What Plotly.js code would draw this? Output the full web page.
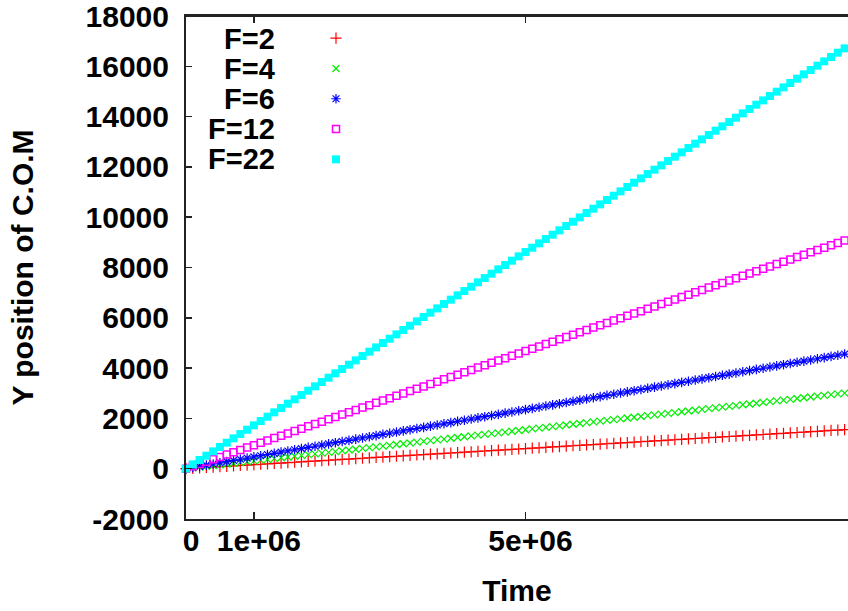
<!DOCTYPE html>
<html>
<head>
<meta charset="utf-8">
<script src="https://cdn.plot.ly/plotly-3.0.1.min.js"></script>
<style>
html,body{margin:0;padding:0;background:#fff;overflow:hidden;}
#chart{width:848px;height:611px;}
</style>
</head>
<body>
<div id="chart"></div>
<script>
// Time samples (every 1e5)
var time = [0,1e5,2e5,3e5,4e5,5e5,6e5,7e5,8e5,9e5,
  1e6,1.1e6,1.2e6,1.3e6,1.4e6,1.5e6,1.6e6,1.7e6,1.8e6,1.9e6,
  2e6,2.1e6,2.2e6,2.3e6,2.4e6,2.5e6,2.6e6,2.7e6,2.8e6,2.9e6,
  3e6,3.1e6,3.2e6,3.3e6,3.4e6,3.5e6,3.6e6,3.7e6,3.8e6,3.9e6,
  4e6,4.1e6,4.2e6,4.3e6,4.4e6,4.5e6,4.6e6,4.7e6,4.8e6,4.9e6,
  5e6,5.1e6,5.2e6,5.3e6,5.4e6,5.5e6,5.6e6,5.7e6,5.8e6,5.9e6,
  6e6,6.1e6,6.2e6,6.3e6,6.4e6,6.5e6,6.6e6,6.7e6,6.8e6,6.9e6,
  7e6,7.1e6,7.2e6,7.3e6,7.4e6,7.5e6,7.6e6,7.7e6,7.8e6,7.9e6,
  8e6,8.1e6,8.2e6,8.3e6,8.4e6,8.5e6,8.6e6,8.7e6,8.8e6,8.9e6,
  9e6,9.1e6,9.2e6,9.3e6,9.4e6,9.5e6,9.6e6,9.7e6,9.8e6,9.9e6,1e7];

var seriesNames = ["F=2","F=4","F=6","F=12","F=22"];

var yF2 = [0,16,32,48,64,80,96,112,128,144,
  160,176,192,208,224,240,256,272,288,304,
  320,336,352,368,384,400,416,432,448,464,
  480,496,512,528,544,560,576,592,608,624,
  640,656,672,688,704,720,736,752,768,784,
  800,816,832,848,864,880,896,912,928,944,
  960,976,992,1008,1024,1040,1056,1072,1088,1104,
  1120,1136,1152,1168,1184,1200,1216,1232,1248,1264,
  1280,1296,1312,1328,1344,1360,1376,1392,1408,1424,
  1440,1456,1472,1488,1504,1520,1536,1552,1568,1584,1600];

var yF4 = [0,31,62,93,124,155,186,217,248,279,
  310,341,372,403,434,465,496,527,558,589,
  620,651,682,713,744,775,806,837,868,899,
  930,961,992,1023,1054,1085,1116,1147,1178,1209,
  1240,1271,1302,1333,1364,1395,1426,1457,1488,1519,
  1550,1581,1612,1643,1674,1705,1736,1767,1798,1829,
  1860,1891,1922,1953,1984,2015,2046,2077,2108,2139,
  2170,2201,2232,2263,2294,2325,2356,2387,2418,2449,
  2480,2511,2542,2573,2604,2635,2666,2697,2728,2759,
  2790,2821,2852,2883,2914,2945,2976,3007,3038,3069,3100];

var yF6 = [0,47,94,141,188,235,282,329,376,423,
  470,517,564,611,658,705,752,799,846,893,
  940,987,1034,1081,1128,1175,1222,1269,1316,1363,
  1410,1457,1504,1551,1598,1645,1692,1739,1786,1833,
  1880,1927,1974,2021,2068,2115,2162,2209,2256,2303,
  2350,2397,2444,2491,2538,2585,2632,2679,2726,2773,
  2820,2867,2914,2961,3008,3055,3102,3149,3196,3243,
  3290,3337,3384,3431,3478,3525,3572,3619,3666,3713,
  3760,3807,3854,3901,3948,3995,4042,4089,4136,4183,
  4230,4277,4324,4371,4418,4465,4512,4559,4606,4653,4700];

var yF12 = [0,94,187,281,374,468,561,655,748,842,
  935,1029,1122,1216,1309,1403,1496,1590,1683,1777,
  1870,1964,2057,2151,2244,2338,2431,2525,2618,2712,
  2805,2899,2992,3086,3179,3273,3366,3460,3553,3647,
  3740,3834,3927,4021,4114,4208,4301,4395,4488,4582,
  4675,4769,4862,4956,5049,5143,5236,5330,5423,5517,
  5610,5704,5797,5891,5984,6078,6171,6265,6358,6452,
  6545,6639,6732,6826,6919,7013,7106,7200,7293,7387,
  7480,7574,7667,7761,7854,7948,8041,8135,8228,8322,
  8415,8509,8602,8696,8789,8883,8976,9070,9163,9257,9350];

var yF22 = [0,172,345,517,689,862,1034,1206,1378,1551,
  1723,1895,2068,2240,2412,2585,2757,2929,3101,3274,
  3446,3618,3791,3963,4135,4308,4480,4652,4824,4997,
  5169,5341,5514,5686,5858,6031,6203,6375,6547,6720,
  6892,7064,7237,7409,7581,7754,7926,8098,8270,8443,
  8615,8787,8960,9132,9304,9477,9649,9821,9993,10166,
  10338,10510,10683,10855,11027,11200,11372,11544,11716,11889,
  12061,12233,12406,12578,12750,12923,13095,13267,13439,13612,
  13784,13956,14129,14301,14473,14646,14818,14990,15162,15335,
  15507,15679,15852,16024,16196,16369,16541,16713,16885,17058,17230];

var xTickVals = [0, 1e6, 5e6];
var xTickText = ["0", "1e+06", "5e+06"];
var yTickVals = [-2000,0,2000,4000,6000,8000,10000,12000,14000,16000,18000];
var yTickText = ["-2000","0","2000","4000","6000","8000","10000","12000","14000","16000","18000"];

var FONT = "Liberation Sans, Arial, Helvetica, sans-serif";
var FS = 30;

var styles = [
  {color:"#ff0000", symbol:"cross-thin", size:8, lw:1.2},
  {color:"#00ee00", symbol:"x-thin", size:7, lw:1.2},
  {color:"#0000ff", symbol:"asterisk-open", size:8, lw:1.2},
  {color:"#ff00ff", symbol:"square-open", size:7, lw:1.5},
  {color:"#00ffff", symbol:"square", size:8, lw:0}
];
var ys = [yF2, yF4, yF6, yF12, yF22];

var traces = ys.map(function(y, i){
  var s = styles[i];
  return {
    type:"scatter", mode:"markers", name:seriesNames[i],
    x:time, y:y, cliponaxis:false,
    marker:{symbol:s.symbol, size:s.size, color:s.color,
            line:{color:s.color, width:s.lw}}
  };
});

// legend labels drawn to the left of the legend symbols (gnuplot style)
var rowY = [39.3, 69.3, 99.3, 129.3, 159.3];
var plotTop = 16, plotH = 503, plotL = 186, plotW = 662;
var annotations = seriesNames.map(function(n, i){
  return {
    text:"<b>"+n+"</b>", xref:"paper", yref:"paper",
    x:(277-plotL)/plotW, y:(plotTop+plotH-rowY[i])/plotH,
    xanchor:"right", yanchor:"middle", showarrow:false,
    font:{family:FONT, size:29, color:"#000"}
  };
});

var layout = {
  width:848, height:611,
  margin:{l:186, r:0, t:16, b:92, pad:0},
  paper_bgcolor:"#fff", plot_bgcolor:"#fff",
  showlegend:true,
  legend:{x:(316-plotL)/plotW, y:0.996, xanchor:"left", yanchor:"top",
          bgcolor:"rgba(0,0,0,0)", font:{size:21, color:"rgba(0,0,0,0)", family:FONT},
          tracegroupgap:0, itemclick:false, itemdoubleclick:false},
  annotations:annotations,
  shapes:[{type:"line", xref:"paper", yref:"paper", x0:0, x1:1, y0:1, y1:1,
           line:{color:"#222", width:2}, layer:"above"}],
  xaxis:{
    range:[0, 9.75e6], tickmode:"array", tickvals:xTickVals, ticktext:xTickText,
    ticks:"inside", ticklen:7, tickwidth:1.5, tickcolor:"#222",
    showline:true, linecolor:"#222", linewidth:2, mirror:"allticks",
    showgrid:false, zeroline:false,
    tickfont:{family:FONT, size:FS, color:"#000", weight:"bold"},
    ticklabelstandoff:-6, ticklabelshift:5, ticklabeloverflow:"allow",
    title:{text:"<b>Time</b>", font:{family:FONT, size:FS, color:"#000"}, standoff:24}
  },
  yaxis:{
    range:[-2000, 18000], tickmode:"array", tickvals:yTickVals, ticktext:yTickText,
    ticks:"inside", ticklen:6, tickwidth:1.5, tickcolor:"#222",
    showline:true, linecolor:"#222", linewidth:2, mirror:false,
    showgrid:false, zeroline:false,
    tickfont:{family:FONT, size:FS, color:"#000", weight:"bold"},
    ticklabelstandoff:9, ticklabeloverflow:"allow",
    title:{text:"<b>Y position of C.O.M</b>", font:{family:FONT, size:FS, color:"#000"}, standoff:43}
  }
};

Plotly.newPlot("chart", traces, layout, {staticPlot:true, displayModeBar:false});
</script>
</body>
</html>
